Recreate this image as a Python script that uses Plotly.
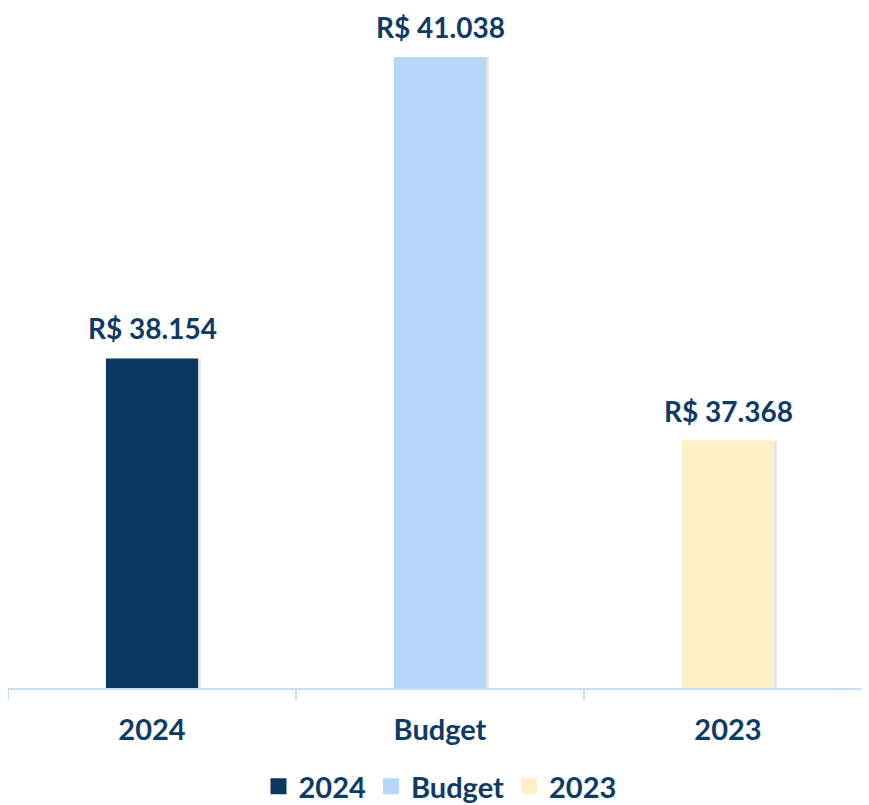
import plotly.graph_objects as go

# values (R$)
categories = ["2024", "Budget", "2023"]
values = [38154, 41038, 37368]
bar_colors = ["#0b3861", "#b5d8f8", "#fff1c6"]

INK = "#0e3b66"
AXIS = "#c6ddf3"
FONT = "Lato"
BAR_W = 0.32

fig = go.Figure()

# soft drop shadow, slightly to the right of each bar
fig.add_trace(go.Bar(
    x=categories, y=values,
    marker={"color": "rgba(0,0,0,0.10)", "line": {"width": 0}},
    width=BAR_W + 0.006, offset=-BAR_W / 2 + 0.004,
    showlegend=False, hoverinfo="skip",
))
fig.add_trace(go.Bar(
    x=categories, y=values,
    marker={"color": bar_colors, "line": {"width": 0}},
    width=BAR_W, offset=-BAR_W / 2,
    showlegend=False, hoverinfo="skip",
))

# legend entries (square markers, bigger than the default bar icon)
for name, color in zip(categories, bar_colors):
    fig.add_trace(go.Scatter(
        x=[categories[0]], y=[None], mode="markers", name=name,
        marker={"symbol": "square", "size": 16, "color": color},
    ))

# value labels above the bars (category index as x: "2024" would read as a number)
for i, val in enumerate(values):
    fig.add_annotation(
        x=i, y=val, text=f"R$ {val:,}".replace(",", "."),
        showarrow=False, yanchor="bottom", yshift=11,
        font={"family": FONT, "size": 28, "color": INK, "weight": "bold"},
    )

fig.update_layout(
    width=864, height=805,
    margin={"l": 0, "r": 0, "t": 0, "b": 125},
    plot_bgcolor="white", paper_bgcolor="white",
    barmode="overlay",
    xaxis={
        "type": "category", "range": [-0.5, 2.5],
        "showline": True, "linecolor": AXIS, "linewidth": 2,
        "ticks": "outside", "tickson": "boundaries", "ticklen": 10,
        "tickcolor": AXIS, "tickwidth": 2, "ticklabelstandoff": 15,
        "tickfont": {"family": FONT, "size": 29, "color": INK, "weight": "bold"},
        "showgrid": False,
    },
    yaxis={"visible": False, "range": [35000, 41507], "showgrid": False},
    legend={
        "orientation": "h", "x": 0.5, "xanchor": "center",
        "yref": "container", "y": 0.033, "yanchor": "middle",
        "font": {"family": FONT, "size": 29, "color": INK, "weight": "bold"},
        "itemwidth": 30,
    },
)

fig.write_html("out.html")
